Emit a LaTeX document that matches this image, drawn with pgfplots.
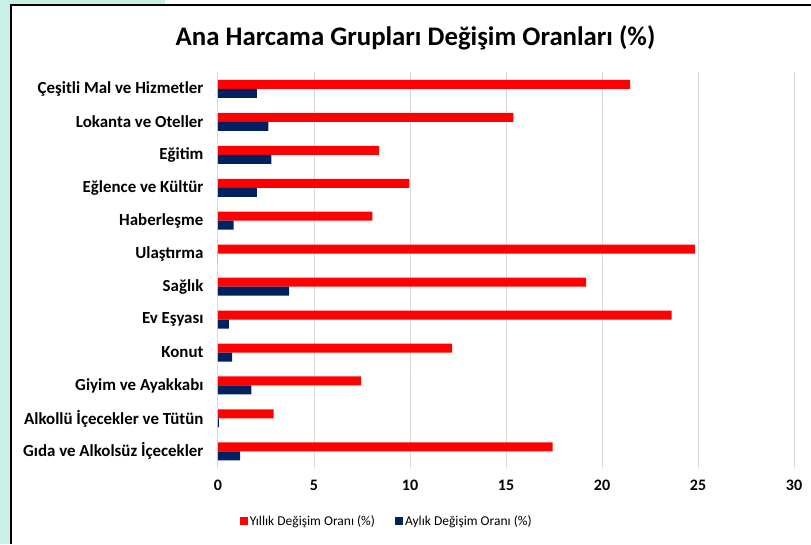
\documentclass[border=0pt]{standalone}
\usepackage{pgfplots}
\pgfplotsset{compat=1.18}
\usepackage{fontspec}
\setmainfont{Carlito}
\definecolor{teal0}{HTML}{C8F0E6}
\definecolor{navy0}{HTML}{002060}
\definecolor{grid0}{HTML}{D9D9D9}
\begin{document}
\begin{tikzpicture}[x=1pt,y=1pt]
\path[use as bounding box] (0,0) rectangle (811,544);
\fill[white] (0,0) rectangle (811,544);
\fill[teal0] (0,0) rectangle (11,544);
\fill[teal0] (0,539) rectangle (165,544);
\draw[black, line width=1.8pt] (11,0) -- (11,539) -- (811,539);
\node[font=\fontsize{26.8}{30}\selectfont\bfseries] at (415.5,506) {Ana Harcama Grupları Değişim Oranları (\%)};
\begin{axis}[
  at={(218pt,76.2pt)}, anchor=south west,
  scale only axis, width=576pt, height=395.3pt,
  xbar, bar width=9pt,
  xmin=0, xmax=30, ymin=-0.5, ymax=11.5,
  xtick={0,5,...,30}, ytick={0,...,11},
  yticklabels={Gıda ve Alkolsüz İçecekler, Alkollü İçecekler ve Tütün, Giyim ve Ayakkabı, Konut, Ev Eşyası, Sağlık, Ulaştırma, Haberleşme, Eğlence ve Kültür, Eğitim, Lokanta ve Oteller, Çeşitli Mal ve Hizmetler},
  axis line style={draw=none},
  major tick length=0pt,
  xmajorgrids, grid style={grid0, line width=1pt},
  /pgf/number format/assume math mode=true,
  yticklabel style={font=\fontsize{16.9}{18}\selectfont\bfseries, xshift=-11pt},
  xticklabel style={font=\fontsize{16}{18}\selectfont\bfseries, yshift=-9pt},
  legend style={at={(0.293,-0.1346)}, anchor=center, legend columns=2, draw=none,
    font=\fontsize{13.5}{15}\selectfont,
    /tikz/every even column/.append style={column sep=18pt}},
  legend image code/.code={\fill[#1] (0pt,-4pt) rectangle (8pt,4pt);},
]
\addplot[fill=red, draw=none, bar shift=4.5pt] coordinates {
(17.43,0) (2.90,1) (7.45,2) (12.20,3) (23.63,4) (19.17,5) (24.84,6) (8.04,7) (9.97,8) (8.39,9) (15.38,10) (21.47,11)};
\addlegendentry{Yıllık Değişim Oranı (\%)}
\addplot[fill=navy0, draw=none, bar shift=-4.5pt] coordinates {
(1.15,0) (0.05,1) (1.74,2) (0.73,3) (0.57,4) (3.71,5) (0,6) (0.82,7) (2.03,8) (2.78,9) (2.62,10) (2.03,11)};
\addlegendentry{Aylık Değişim Oranı (\%)}
\end{axis}
\end{tikzpicture}
\end{document}
